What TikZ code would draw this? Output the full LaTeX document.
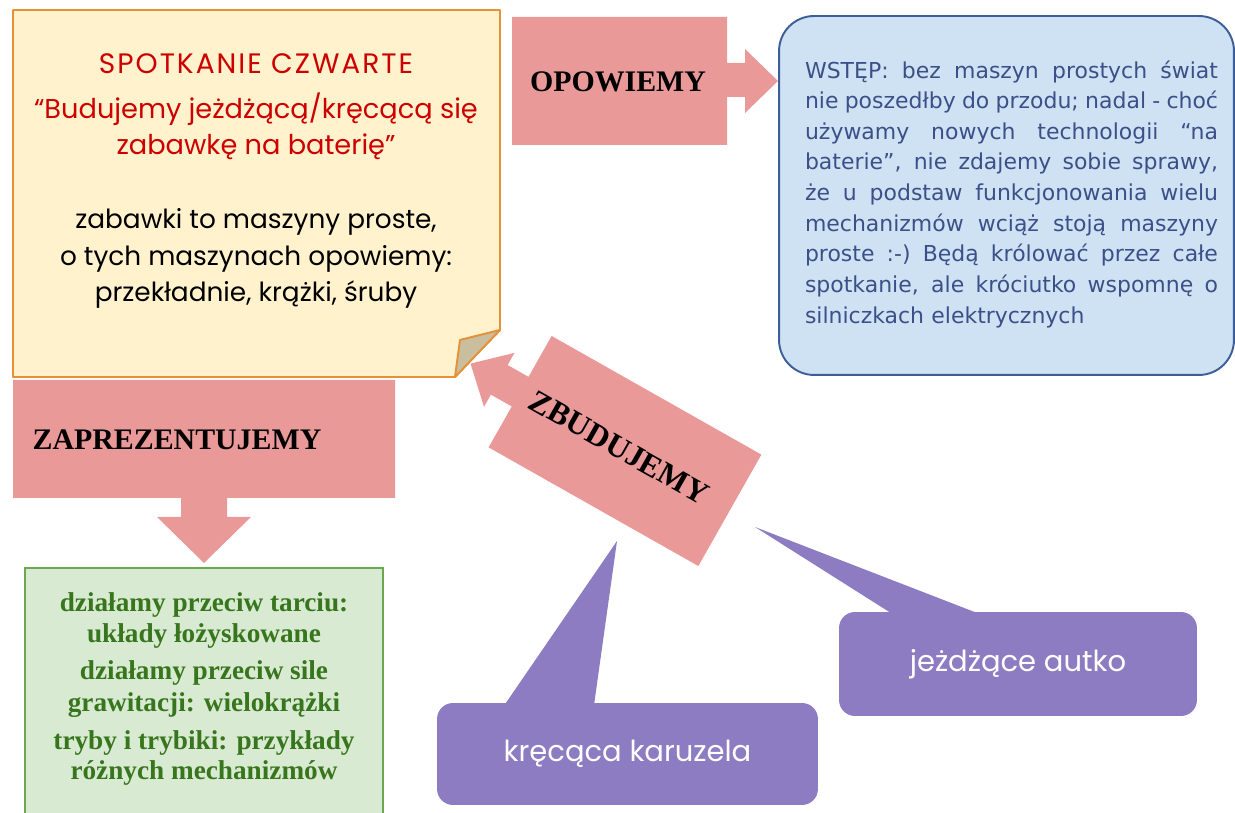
\documentclass[tikz,border=0pt]{standalone}
\usepackage{fontspec}
\setmainfont{Liberation Serif}
\newfontfamily\comicfont{Poppins}
\newfontfamily\wstepfont{DejaVu Sans}

\definecolor{rozowy}{HTML}{EA9999}
\definecolor{zolty}{HTML}{FFF2CC}
\definecolor{pomaranczowy}{HTML}{E69138}
\definecolor{zagiecie}{HTML}{C9BF9F}
\definecolor{czerwony}{HTML}{CC0000}
\definecolor{niebieski}{HTML}{CFE2F3}
\definecolor{granatowy}{HTML}{3D5E99}
\definecolor{tekstniebieski}{HTML}{3B5088}
\definecolor{jasnozielony}{HTML}{D9EAD3}
\definecolor{zielony}{HTML}{6AA84F}
\definecolor{ciemnozielony}{HTML}{38761D}
\definecolor{fiolet}{HTML}{8E7CC3}

% wiersz wyjustowany na cala szerokosc pola
\newcommand{\wiersz}[1]{\leavevmode\hbox to 8.26cm{\spaceskip=0.3em plus 1fil minus 0.15em\relax #1}\\}

\begin{document}
\begin{tikzpicture}[
    x=0.02cm, y=-0.02cm,
    strzalka/.style={fill=rozowy},
    haslo/.style={anchor=base, font=\fontsize{17}{20}\selectfont\bfseries},
    notatka/.style={anchor=base, font=\comicfont\fontsize{15}{18}\selectfont},
    tytulowy/.style={notatka, text=czerwony, font=\comicfont\fontsize{15.5}{18}\selectfont},
    zielonytekst/.style={anchor=base, text=ciemnozielony, font=\fontsize{15.5}{18}\selectfont\bfseries},
    dymek/.style={fill=fiolet, rounded corners=0.32cm, text=white, inner sep=0,
        font=\comicfont\fontsize{16.5}{20}\selectfont}
]
\useasboundingbox (0,0) rectangle (1235,813);

% ============================================
% NOTATKA (ZOLTA KARTKA)
% ============================================
\filldraw[fill=zolty, draw=pomaranczowy, line width=1.1pt, line join=round]
    (13,10) -- (500,10) -- (500,330) -- (455,377) -- (13,377) -- cycle;
% zagiety rog
\filldraw[fill=zagiecie, draw=pomaranczowy, line width=1.1pt, line join=round]
    (500,330) -- (460,340) -- (455,377) -- cycle;

% Tytul
\node[tytulowy, font=\comicfont\fontsize{16}{18}\selectfont\addfontfeature{LetterSpace=7}] (tytul) at (256,74) {SPOTKANIE CZWARTE};
\node[tytulowy] (temat1) at (256,119) {“Budujemy jeżdżącą/kręcącą się};
\node[tytulowy] (temat2) at (256,155) {zabawkę na baterię”};

% Opis
\node[notatka] (opis1) at (256,229) {zabawki to maszyny proste,};
\node[notatka] (opis2) at (256,266) {o tych maszynach opowiemy:};
\node[notatka] (opis3) at (256,302) {przekładnie, krążki, śruby};

% ============================================
% STRZALKA: OPOWIEMY
% ============================================
\fill[strzalka] (512,17) -- (727,17) -- (727,63) -- (745,63) -- (745,49) -- (778,81)
    -- (745,113) -- (745,97) -- (727,97) -- (727,145) -- (512,145) -- cycle;
\node[haslo] (opowiemy) at (618,92) {OPOWIEMY};

% ============================================
% WSTEP (NIEBIESKIE POLE)
% ============================================
\node[draw=granatowy, fill=niebieski, line width=1.1pt, rounded corners=0.7cm,
    minimum width=9.1cm, minimum height=7.18cm] (wstep) at (1006.5,195.5) {};
\node[text width=8.26cm, align=left, inner sep=0, text=tekstniebieski,
    font=\wstepfont\fontsize{12.5}{17.43}\selectfont] (wstepTekst) at (1011.5,194) {%
    \wiersz{WSTĘP: bez maszyn prostych świat}
    \wiersz{nie poszedłby do przodu; nadal - choć}
    \wiersz{używamy nowych technologii “na}
    \wiersz{baterie”, nie zdajemy sobie sprawy,}
    \wiersz{że u podstaw funkcjonowania wielu}
    \wiersz{mechanizmów wciąż stoją maszyny}
    \wiersz{proste :-) Będą królować przez całe}
    \wiersz{spotkanie, ale króciutko wspomnę o}
    silniczkach elektrycznych};

% ============================================
% STRZALKA: ZAPREZENTUJEMY
% ============================================
\fill[strzalka] (13,380) -- (395,380) -- (395,498) -- (227,498) -- (227,517) -- (251,517)
    -- (204,563) -- (157,517) -- (181,517) -- (181,498) -- (13,498) -- cycle;
\node[haslo] (zaprezentujemy) at (177,450) {ZAPREZENTUJEMY};

% Zielone pole
\filldraw[fill=jasnozielony, draw=zielony, line width=0.7pt] (25,568) rectangle (383,830);
\node[zielonytekst] (tarcie1) at (204,612) {działamy przeciw tarciu:};
\node[zielonytekst] (tarcie2) at (204,643) {układy łożyskowane};
\node[zielonytekst] (grawitacja1) at (204,680) {działamy przeciw sile};
\node[zielonytekst] (grawitacja2) at (204,712) {grawitacji: wielokrążki};
\node[zielonytekst] (tryby1) at (204,750) {tryby i trybiki: przykłady};
\node[zielonytekst] (tryby2) at (204,780) {różnych mechanizmów};

% ============================================
% STRZALKA: ZBUDUJEMY (obrocona)
% ============================================
\begin{scope}[shift={(625,451)}, rotate=-29.5]
    \fill[strzalka] (-120.5,-64) -- (120.5,-64) -- (120.5,64) -- (-120.5,64) -- (-120.5,17)
        -- (-144.5,17) -- (-144.5,31) -- (-177.5,0) -- (-144.5,-31) -- (-144.5,-17)
        -- (-120.5,-17) -- cycle;
    \node[haslo, anchor=center, rotate=-29.5, font=\fontsize{18}{20}\selectfont\bfseries] (zbudujemy) at (-7,0) {ZBUDUJEMY};
\end{scope}

% ============================================
% DYMKI (FIOLETOWE)
% ============================================
\node[dymek, minimum width=7.62cm, minimum height=2.04cm] (karuzela) at (627.5,754) {kręcąca karuzela};
\fill[fiolet] ([xshift=1.32cm, yshift=-0.1cm]karuzela.north west) -- (617,541)
    -- ([xshift=3.14cm, yshift=-0.1cm]karuzela.north west) -- cycle;

\node[dymek, minimum width=7.16cm, minimum height=2.08cm] (autko) at (1018,664) {jeżdżące autko};
\fill[fiolet] ([xshift=1.16cm, yshift=-0.1cm]autko.north west) -- (755,527)
    -- ([xshift=2.96cm, yshift=-0.1cm]autko.north west) -- cycle;

\end{tikzpicture}
\end{document}
